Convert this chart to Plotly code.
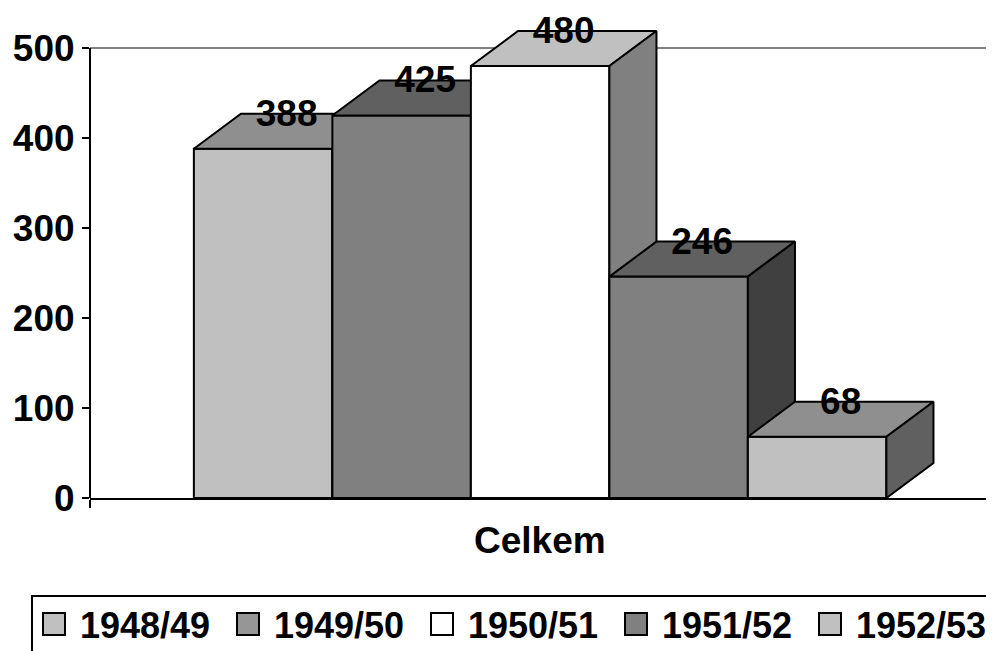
import plotly.graph_objects as go

# ---- data ----
categories = ["Celkem"]
series_names = ["1948/49", "1949/50", "1950/51", "1951/52", "1952/53"]
series_values = [388, 425, 480, 246, 68]
front_colors = ["#c0c0c0", "#808080", "#ffffff", "#808080", "#c0c0c0"]
top_colors = ["#8f8f8f", "#606060", "#c0c0c0", "#606060", "#8f8f8f"]
side_colors = ["#606060", "#404040", "#808080", "#404040", "#606060"]
legend_colors = ["#c0c0c0", "#969696", "#ffffff", "#808080", "#c0c0c0"]
y_tick_vals = [0, 100, 200, 300, 400, 500]

# ---- geometry (style) ----
OFF = 8                      # page body margin offset
W, H = 994 - OFF, 651 - OFF
# plot area in screen pixels -> figure pixels
PL, PR, PT, PB = 90 - OFF, 991 - OFF, 12 - OFF, 498 - OFF
Y_MAX_RANGE = 540
BAR_W = 1.0
GAP_LEFT = 0.75
X_MAX_RANGE = (PR - PL) / 138.5
DX = 0.34           # depth offset in x units
DY = 38.9           # depth offset in y units
LABEL_DROP = 3.0    # label a little below back edge
FONT = "Liberation Sans, Arial, sans-serif"
FS = 37
LEG_FS = 36


def px_x(p):
    """screen x pixel -> paper x"""
    return (p - OFF - PL) / (PR - PL)


def px_y(p):
    """screen y pixel -> paper y"""
    return (PB - (p - OFF)) / (PB - PT)


fig = go.Figure()

for i, (name, v) in enumerate(zip(series_names, series_values)):
    x0 = GAP_LEFT + i * BAR_W
    x1 = x0 + BAR_W
    polys = [
        ([x0, x1, x1, x0, x0], [0, 0, v, v, 0], front_colors[i]),
        ([x0, x1, x1 + DX, x0 + DX, x0], [v, v, v + DY, v + DY, v], top_colors[i]),
        ([x1, x1 + DX, x1 + DX, x1, x1], [0, DY, v + DY, v, 0], side_colors[i]),
    ]
    for xs, ys, col in polys:
        fig.add_trace(go.Scatter(
            x=xs, y=ys, mode="lines", fill="toself", fillcolor=col,
            line=dict(color="black", width=2), showlegend=False,
            name=name, hoverinfo="skip"))
    fig.add_trace(go.Scatter(
        x=[x0 + BAR_W / 2 + DX / 2], y=[v + DY - LABEL_DROP], mode="text",
        text=[str(v)], textposition="middle center",
        textfont=dict(family=FONT, size=FS, color="black", weight="bold"),
        cliponaxis=False, showlegend=False, name=name,
        hovertemplate=f"{name}: {v}<extra></extra>"))

shapes = [
    # y axis line
    dict(type="line", xref="paper", yref="y", x0=0, x1=0, y0=0, y1=500,
         line=dict(color="black", width=2), layer="above"),
    # gray top border
    dict(type="line", xref="paper", yref="y", x0=0, x1=1, y0=500, y1=500,
         line=dict(color="#808080", width=2), layer="below"),
    # gray right border
    dict(type="line", xref="paper", yref="y", x0=1, x1=1, y0=0, y1=500,
         line=dict(color="#808080", width=2), layer="below"),
    # legend box (clipped at right/bottom)
    dict(type="rect", xref="paper", yref="paper",
         x0=px_x(32), x1=px_x(1010), y0=px_y(596), y1=px_y(670),
         line=dict(color="black", width=2), fillcolor="rgba(0,0,0,0)"),
]

annotations = [
    dict(text="<b>" + categories[0] + "</b>", xref="paper", yref="paper",
         x=px_x(540), y=px_y(540), showarrow=False, xanchor="center",
         yanchor="middle", font=dict(family=FONT, size=FS, color="black")),
]

for i, name in enumerate(series_names):
    sx = 43 + i * 194
    shapes.append(dict(type="rect", xref="paper", yref="paper",
                       x0=px_x(sx), x1=px_x(sx + 22),
                       y0=px_y(613), y1=px_y(635),
                       fillcolor=legend_colors[i],
                       line=dict(color="black", width=2)))
    annotations.append(dict(text="<b>" + name + "</b>", xref="paper", yref="paper",
                            x=px_x(sx + 35), y=px_y(625), showarrow=False,
                            xanchor="left", yanchor="middle",
                            font=dict(family=FONT, size=LEG_FS, color="black")))

fig.update_layout(
    width=W, height=H,
    margin=dict(l=PL, r=W - PR, t=PT, b=H - PB, pad=0),
    plot_bgcolor="white", paper_bgcolor="white",
    showlegend=False,
    xaxis=dict(range=[0, X_MAX_RANGE], showgrid=False, zeroline=False,
               showline=True, linecolor="black", linewidth=2,
               tickvals=[0, X_MAX_RANGE], ticktext=["", ""],
               ticks="outside", ticklen=8, tickwidth=2, tickcolor="black",
               fixedrange=True),
    yaxis=dict(range=[0, Y_MAX_RANGE], showgrid=False, zeroline=False,
               showline=False, tickvals=y_tick_vals,
               ticks="outside", ticklen=7, tickwidth=2, tickcolor="black",
               tickfont=dict(family=FONT, size=FS, color="black", weight="bold"),
               fixedrange=True),
    shapes=shapes,
    annotations=annotations,
)

fig.write_html("out.html")
